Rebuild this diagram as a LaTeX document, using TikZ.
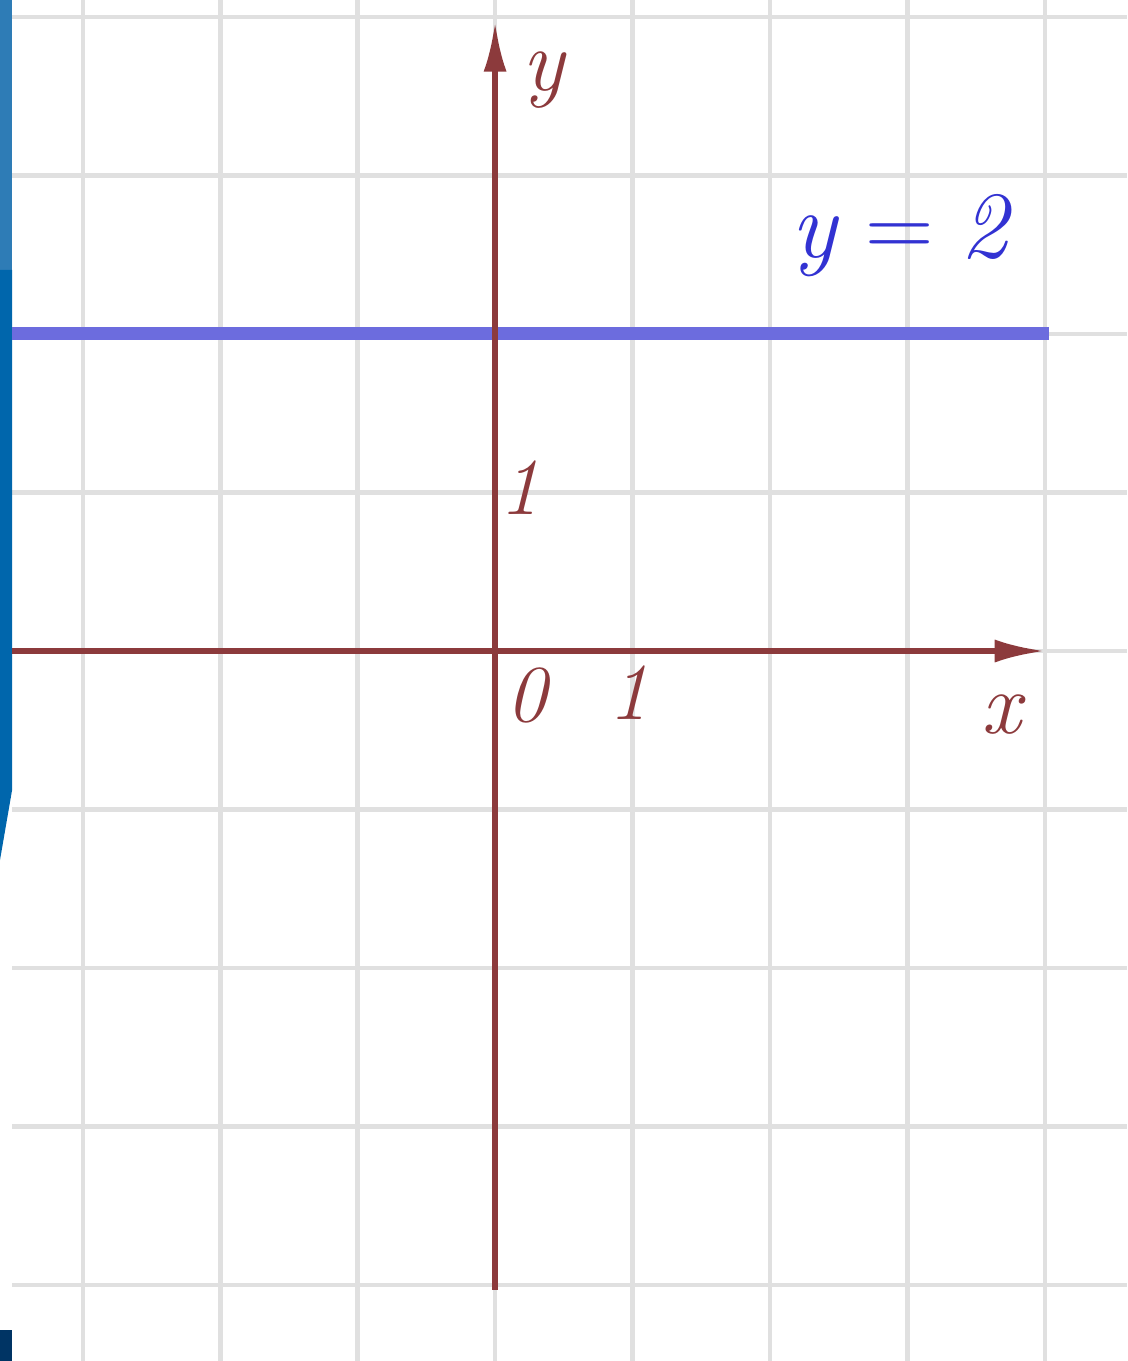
\documentclass[tikz,border=0pt]{standalone}
\usepackage{fontspec}
\usetikzlibrary{arrows.meta}
\definecolor{axisred}{RGB}{140,58,60}
\definecolor{lineblue}{RGB}{108,108,222}
\definecolor{labelblue}{RGB}{50,50,210}
\definecolor{gridgray}{RGB}{224,224,224}
\definecolor{barblue}{RGB}{46,124,182}
\definecolor{bardark}{RGB}{0,102,172}
\definecolor{barnavy}{RGB}{0,52,100}
\begin{document}
\begin{tikzpicture}[x=2.748cm, y=3.17cm,
  axis/.style={axisred, line width=0.11cm, -{Latex[length=1cm,width=0.46cm]}},
  lbl/.style={text=axisred, inner sep=0pt, font=\fontsize{50}{56}\selectfont\itshape},
  num/.style={lbl, font=\fontsize{46}{52}\selectfont\itshape}]
  \useasboundingbox (-3.603,-4.479) rectangle (4.6,4.107);
  \foreach \i in {-3,...,4} \draw[gridgray, line width=0.09cm] (\i,-4.479) -- (\i,4.107);
  \foreach \j in {-4,...,4} \draw[gridgray, line width=0.09cm] (-3.515,\j) -- (4.6,\j);
  % left strip
  \fill[barblue] (-3.603,4.107) rectangle (-3.515,2.404);
  \fill[bardark] (-3.603,2.404) -- (-3.515,2.404) -- (-3.515,-0.877) -- (-3.603,-1.319) -- cycle;
  \fill[barnavy] (-3.603,-4.284) rectangle (-3.515,-4.479);
  % the line y = 2
  \coordinate (l1) at (-3.515,2); \coordinate (l2) at (4.03,2);
  \draw[lineblue, line width=0.26cm] (l1) -- (l2);
  \node[lbl, text=labelblue, font=\fontsize{54}{60}\selectfont] (eq) at (2.96,2.62)
    {\textit{y}\hspace{0.28em}=\hspace{0.28em}\textit{2}};
  % axes
  \coordinate (xl) at (-3.515,0); \coordinate (xr) at (4.0,0);
  \coordinate (yb) at (0,-4.03); \coordinate (yt) at (0,3.97);
  \draw[axis] (xl) -- (xr);
  \draw[axis] (yb) -- (yt);
  \node[lbl] (ylab) at (0.35,3.60) {y};
  \node[lbl] (xlab) at (3.68,-0.40) {x};
  \node[num] (zero) at (0.23,-0.28) {0};
  \node[num] (xone) at (0.975,-0.26) {1};
  \node[num] (yone) at (0.18,1.03) {1};
\end{tikzpicture}
\end{document}
